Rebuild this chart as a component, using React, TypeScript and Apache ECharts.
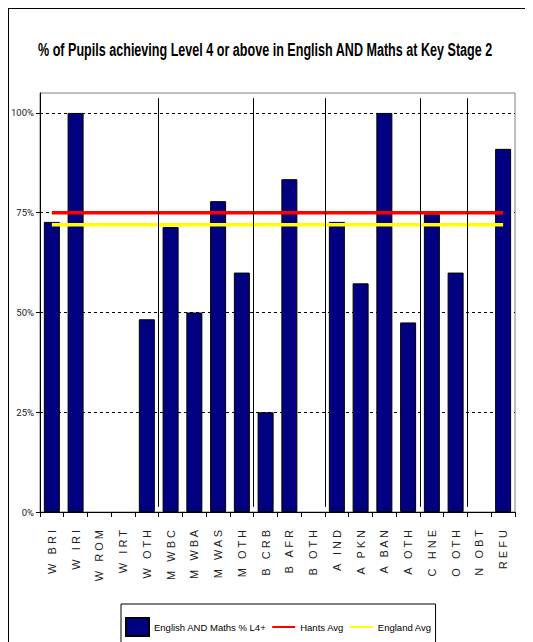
import React, { useEffect, useRef } from "react";
import * as echarts from "echarts";

const categories = [
  "W BRI", "W IRI", "W ROM", "W IRT", "W OTH",
  "M WBC", "M WBA", "M WAS", "M OTH",
  "B CRB", "B AFR", "B OTH",
  "A IND", "A PKN", "A BAN", "A OTH",
  "C HNE", "O OTH", "N OBT", "REFU",
];
const englishMaths = [
  72.7, 100, 0, 0, 48.3,
  71.4, 50, 77.9, 60,
  25, 83.4, 0,
  72.7, 57.3, 100, 47.5,
  74.6, 60, 0, 91,
];
const hantsAvg = 75;
const englandAvg = 72;
const groupBoundaries = [5, 9, 12, 16, 18];
const yTicks = [0, 25, 50, 75, 100];

const TITLE = "% of Pupils achieving Level 4 or above in English AND Maths at Key Stage 2";
const SANS = "'Liberation Sans', Arial, sans-serif";
const TITLE_FONT = "bold 17px 'Liberation Sans', Arial, sans-serif";
const TITLE_WIDTH = 455;

function measure(font: string, text: string): number {
  const c = document.createElement("canvas");
  const ctx = c.getContext("2d");
  if (!ctx) return TITLE_WIDTH;
  ctx.font = font;
  return ctx.measureText(text).width;
}

export default function App() {
  const ref = useRef<HTMLDivElement>(null);
  useEffect(() => {
    if (!ref.current) return;
    const chart = echarts.init(ref.current, undefined, { renderer: "svg" });
    const titleScale = TITLE_WIDTH / measure(TITLE_FONT, TITLE);
    const option: any = {
      animation: false,
      backgroundColor: "#fff",
      graphic: [
        { type: "line", shape: { x1: 0, y1: 0.5, x2: 525, y2: 0.5 }, style: { stroke: "#000", lineWidth: 1 } },
        { type: "line", shape: { x1: 0.5, y1: 0, x2: 0.5, y2: 634 }, style: { stroke: "#000", lineWidth: 1 } },
        {
          type: "text",
          x: 30,
          y: 42,
          scaleX: titleScale,
          scaleY: 1.1,
          style: {
            text: TITLE,
            font: TITLE_FONT,
            fill: "#000",
            textAlign: "left",
            textVerticalAlign: "middle",
          },
        },
      ],
      grid: {
        left: 29, top: 85, right: 18, bottom: 130,
        show: true, borderColor: "#808080", borderWidth: 1, backgroundColor: "transparent",
      },
      legend: {
        left: 113,
        top: 596,
        padding: [13, 4, 10, 4],
        borderColor: "#000",
        borderWidth: 1,
        itemWidth: 23,
        itemHeight: 18,
        itemGap: 5,
        textStyle: { fontFamily: SANS, fontSize: 9.5, color: "#000" },
        data: [
          { name: "English AND Maths % L4+", icon: "rect" },
          { name: "Hants Avg", itemStyle: { opacity: 0 } },
          { name: "England Avg", itemStyle: { opacity: 0 } },
        ],
      },
      xAxis: [
        {
          type: "category",
          data: categories,
          boundaryGap: true,
          axisLine: { lineStyle: { color: "#000", width: 1 } },
          axisTick: { show: true, length: 5, lineStyle: { color: "#000" } },
          axisLabel: {
            rotate: 90,
            interval: 0,
            margin: 18,
            fontSize: 11,
            fontFamily: SANS,
            color: "#222",
            formatter: (v: string) => v.split("").join(" "),
          },
        },
        { type: "value", min: 0, max: categories.length, show: false },
      ],
      yAxis: {
        type: "value",
        min: 0,
        max: 105,
        interval: 25,
        axisLine: { show: true, lineStyle: { color: "#000" } },
        axisTick: { show: true, length: 4, lineStyle: { color: "#000" } },
        axisLabel: {
          formatter: (v: number) => (yTicks.includes(v) ? v + "%" : ""),
          fontFamily: "Roboto, 'Liberation Sans', sans-serif",
          fontSize: 9.5,
          color: "#222",
          margin: 6,
          showMaxLabel: false,
        },
        splitLine: {
          show: true,
          showMinLine: false,
          showMaxLine: false,
          lineStyle: { color: "#000", type: [3, 3], width: 1 },
        },
      },
      series: [
        {
          name: "English AND Maths % L4+",
          type: "bar",
          data: englishMaths.map((v) => (v === 0 ? { value: 0, itemStyle: { borderWidth: 0 } } : v)),
          barWidth: 16,
          itemStyle: { color: "#000080", borderColor: "#000", borderWidth: 1 },
          z: 2,
        },
        {
          name: "separators",
          type: "line",
          xAxisIndex: 1,
          data: [],
          z: 3,
          markLine: {
            silent: true,
            symbol: "none",
            label: { show: false },
            lineStyle: { color: "#000", width: 1, type: "solid" },
            data: groupBoundaries.map((b) => [{ coord: [b, 103.7] }, { coord: [b, 1.3] }]),
          },
        },
        {
          name: "Hants Avg",
          type: "line",
          data: categories.map(() => hantsAvg),
          symbol: "none",
          lineStyle: { color: "#ff0000", width: 3.5 },
          itemStyle: { color: "#ff0000" },
          z: 4,
        },
        {
          name: "England Avg",
          type: "line",
          data: categories.map(() => englandAvg),
          symbol: "none",
          lineStyle: { color: "#ffff00", width: 3.5 },
          itemStyle: { color: "#ffff00" },
          z: 4,
        },
      ],
    };
    chart.setOption(option);
    return () => chart.dispose();
  }, []);
  return <div ref={ref} style={{ width: 525, height: 634 }} />;
}
